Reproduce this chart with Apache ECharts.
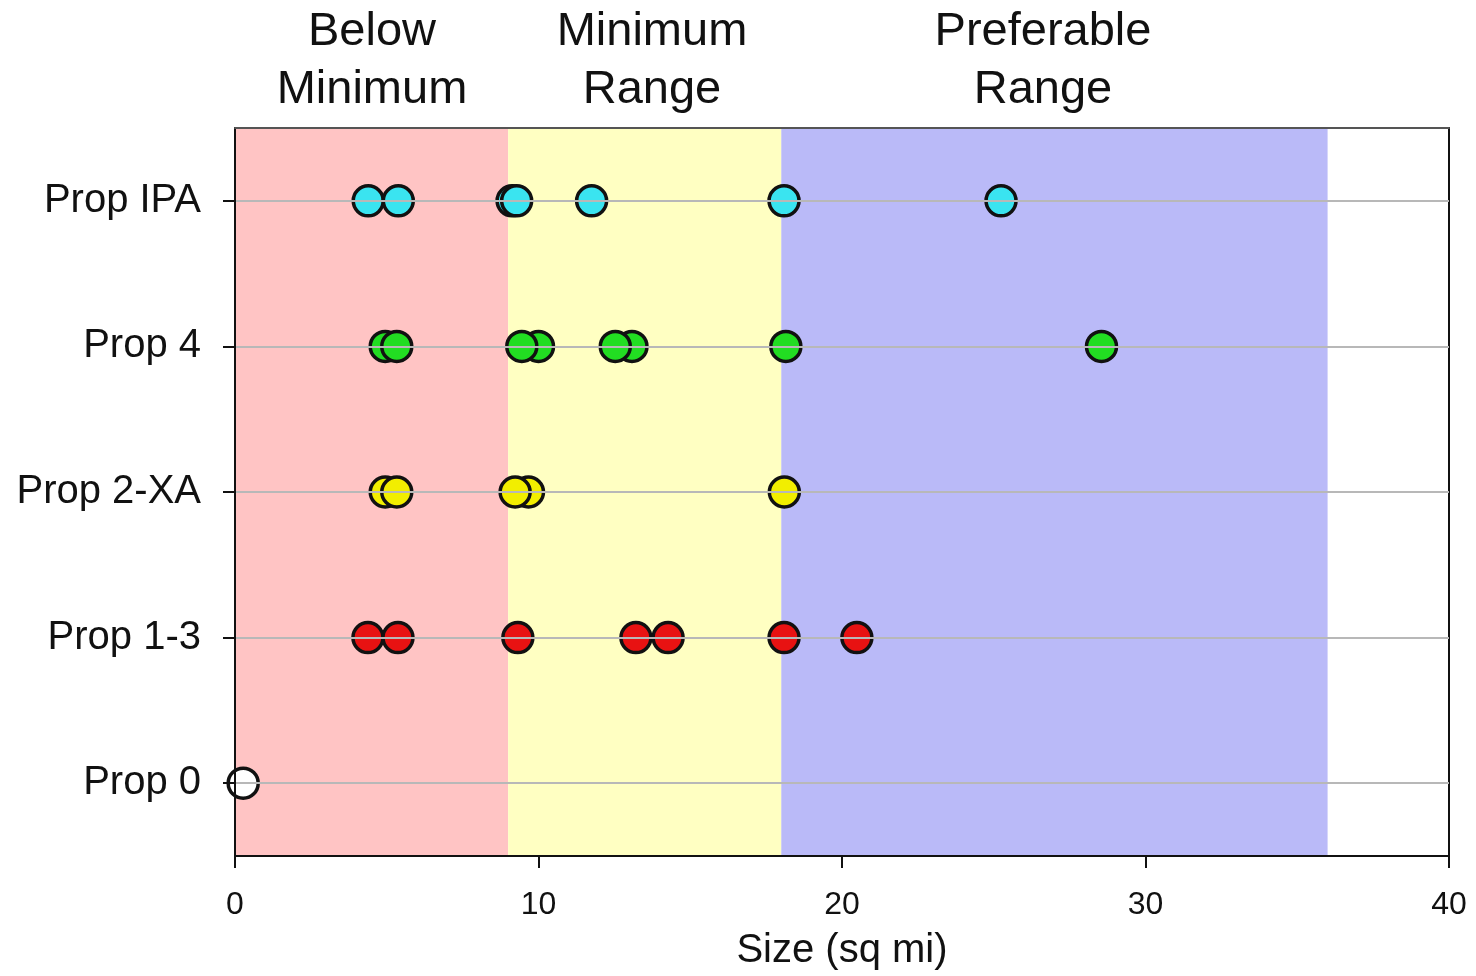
<!DOCTYPE html>
<html>
<head>
<meta charset="utf-8">
<script src="https://cdn.jsdelivr.net/npm/echarts@6/dist/echarts.min.js"></script>
<style>
html,body{margin:0;padding:0;background:#fff;}
#chart{width:1476px;height:976px;}
</style>
</head>
<body>
<div id="chart"></div>
<script>
// Categories (bottom to top)
var categories = ['Prop 0', 'Prop 1-3', 'Prop 2-XA', 'Prop 4', 'Prop IPA'];

// Series values (size, sq mi)
var prop0 = [0.27];
var prop13 = [4.38, 5.37, 9.32, 13.21, 14.27, 18.09, 20.49];
var prop2xa = [4.95, 9.67, 5.33, 9.23, 18.1];
var prop4 = [4.95, 10.0, 13.08, 5.33, 9.45, 12.53, 18.15, 28.55];
var propIPA = [4.39, 5.38, 9.13, 9.28, 11.75, 18.09, 25.24];

// Range bands
var bandNames = ['Below\nMinimum', 'Minimum\nRange', 'Preferable\nRange'];
var bandStarts = [0, 9, 18];
var bandEnds = [9, 18, 36];

// x ticks
var xMin = 0, xMax = 40, xInterval = 10;

var bandColors = ['#ffc4c4', '#ffffc2', '#babaf8'];
var markerColors = ['#ffffff', '#e81212', '#f2ee00', '#22dd22', '#3ae4f0'];
var seriesValues = [prop0, prop13, prop2xa, prop4, propIPA];

var chart = echarts.init(document.getElementById('chart'));

var series = [];
// bands
series.push({
  type: 'scatter',
  name: 'bands',
  data: [],
  z: 1,
  silent: true,
  markArea: {
    silent: true,
    data: bandStarts.map(function (s, i) {
      return [{ xAxis: s, itemStyle: { color: bandColors[i], opacity: 1 } }, { xAxis: bandEnds[i] }];
    })
  }
});
// gridlines through categories
series.push({
  type: 'scatter',
  name: 'grid',
  data: [],
  z: 2,
  silent: true,
  markLine: {
    silent: true,
    symbol: ['none', 'none'],
    label: { show: false },
    lineStyle: { color: '#b8b8b8', width: 2, type: 'solid' },
    data: categories.map(function (c, i) { return { yAxis: i }; })
  }
});
seriesValues.forEach(function (vals, i) {
  series.push({
    type: 'scatter',
    name: categories[i],
    z: 3,
    symbol: 'circle',
    symbolSize: 30,
    itemStyle: { color: markerColors[i], borderColor: '#111', borderWidth: 3.5, opacity: 1 },
    data: vals.map(function (v) { return [v, categories[i]]; })
  });
});

var bandLabelX = [372, 652, 1043];
var graphics = bandNames.map(function (t, i) {
  return {
    type: 'text',
    x: bandLabelX[i],
    y: 61,
    style: {
      text: t,
      fontFamily: 'Liberation Sans, Arial, sans-serif',
      fontSize: 47,
      lineHeight: 58,
      fill: '#111',
      align: 'center',
      verticalAlign: 'middle'
    }
  };
});

chart.setOption({
  animation: false,
  backgroundColor: '#ffffff',
  textStyle: { fontFamily: 'Liberation Sans, Arial, sans-serif' },
  grid: { left: 235, right: 27, top: 128, bottom: 119, containLabel: false, show: true, borderColor: '#111', borderWidth: 2, backgroundColor: '#ffffff' },
  xAxis: [{
    type: 'value',
    min: xMin, max: xMax, interval: xInterval,
    position: 'bottom',
    z: 10,
    axisLine: { show: true, lineStyle: { color: '#111', width: 2 } },
    axisTick: { show: true, length: 12, inside: false, lineStyle: { color: '#111', width: 2 } },
    axisLabel: { fontSize: 32, color: '#111', margin: 33 },
    splitLine: { show: false },
    name: 'Size (sq mi)',
    nameLocation: 'middle',
    nameGap: 75,
    nameTextStyle: { fontSize: 40, color: '#111' }
  }, {
    type: 'value',
    min: xMin, max: xMax, interval: xInterval,
    position: 'top',
    z: 10,
    axisLine: { show: true, lineStyle: { color: '#555', width: 2 } },
    axisTick: { show: false },
    axisLabel: { show: false },
    splitLine: { show: false }
  }],
  yAxis: [{
    type: 'category',
    data: categories,
    boundaryGap: true,
    position: 'left',
    z: 10,
    axisLine: { show: true, lineStyle: { color: '#111', width: 2 } },
    axisTick: { show: true, alignWithLabel: true, length: 12, lineStyle: { color: '#111', width: 2 } },
    axisLabel: { fontSize: 40, color: '#111', margin: 34 },
    splitLine: { show: false }
  }],
  graphic: graphics,
  series: series
});
</script>
</body>
</html>
